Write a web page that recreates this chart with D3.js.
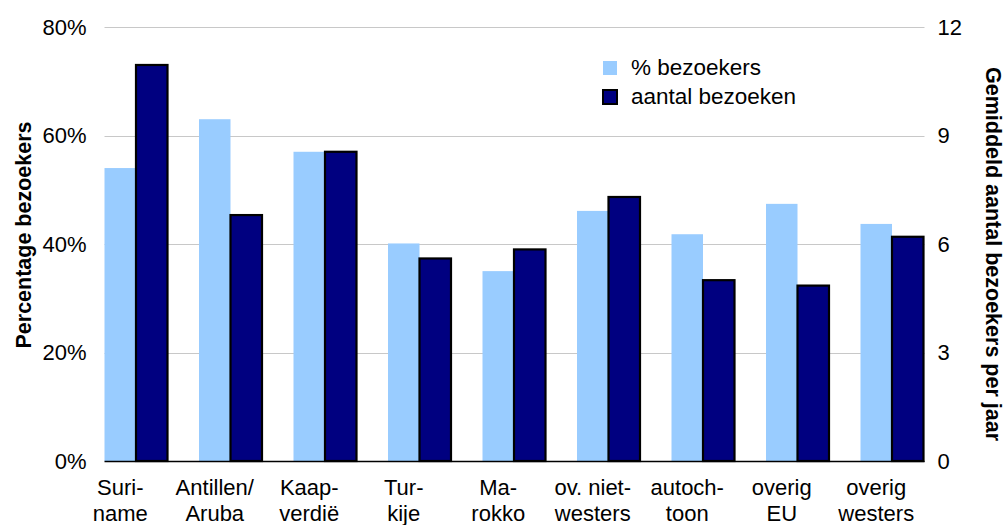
<!DOCTYPE html>
<html>
<head>
<meta charset="utf-8">
<script src="https://cdn.jsdelivr.net/npm/d3@7"></script>
<style>
  html, body { margin: 0; padding: 0; background: #fff; }
  svg { display: block; font-family: "Liberation Sans", Arial, sans-serif; }
</style>
</head>
<body>
<svg id="chart" width="1006" height="525"></svg>
<script>
const categories = [
  ["Suri-", "name"], ["Antillen/", "Aruba"], ["Kaap-", "verdië"], ["Tur-", "kije"],
  ["Ma-", "rokko"], ["ov. niet-", "westers"], ["autoch-", "toon"], ["overig", "EU"], ["overig", "westers"]
];
const pctVisitors = [54.0, 63.0, 57.0, 40.1, 35.0, 46.1, 41.8, 47.4, 43.7];
const numVisits = [10.95, 6.8, 8.55, 5.6, 5.85, 7.3, 5.0, 4.85, 6.2];
const leftTicks = [0, 20, 40, 60, 80];
const rightTicks = [0, 3, 6, 9, 12];
const seriesNames = ["% bezoekers", "aantal bezoeken"];

const svg = d3.select("#chart");
const fs = 22;
const keys = categories.map((c, i) => i);

const x = d3.scaleBand().domain(keys).range([104.5, 104.5 + 9 * 94.5]).padding(0);
const xs = d3.scaleBand().domain([0, 1]).range([0, x.bandwidth() * 2 / 3]).padding(0);
const yL = d3.scaleLinear().domain([0, 80]).range([461, 27]);
const yR = d3.scaleLinear().domain([0, 12]).range([461, 27]);
const plotLeft = 104.5, plotRight = x(8) + xs(1) + xs.bandwidth() + 1;

// gridlines
svg.append("g").selectAll("line").data(leftTicks.filter(d => d > 0)).join("line")
  .attr("x1", plotLeft).attr("x2", plotRight)
  .attr("y1", d => Math.round(yL(d)) + 0.5).attr("y2", d => Math.round(yL(d)) + 0.5)
  .attr("stroke", "#c8c8c8").attr("stroke-width", 1);

// bars
svg.append("g").selectAll("rect").data(pctVisitors).join("rect")
  .attr("x", (d, i) => x(i) + xs(0)).attr("width", xs.bandwidth())
  .attr("y", d => yL(d)).attr("height", d => yL(0) - yL(d))
  .attr("fill", "#99ccff");
svg.append("g").selectAll("rect").data(numVisits).join("rect")
  .attr("x", (d, i) => x(i) + xs(1)).attr("width", xs.bandwidth())
  .attr("y", d => yR(d)).attr("height", d => yR(0) - yR(d))
  .attr("fill", "#000080").attr("stroke", "#000").attr("stroke-width", 2.2);

// baseline
svg.append("line").attr("x1", plotLeft).attr("x2", plotRight)
  .attr("y1", yL(0) + 0.5).attr("y2", yL(0) + 0.5).attr("stroke", "#000").attr("stroke-width", 1.3);

// left axis
const axL = svg.append("g").attr("transform", "translate(104.5,0)")
  .call(d3.axisLeft(yL).tickValues(leftTicks).tickFormat(d => d + "%").tickSize(0).tickPadding(18));
axL.select(".domain").remove();
axL.selectAll("text").attr("font-size", fs).attr("fill", "#000").attr("font-family", "Liberation Sans, Arial, sans-serif");

// right axis
const axR = svg.append("g").attr("transform", "translate(" + plotRight + ",0)")
  .call(d3.axisRight(yR).tickValues(rightTicks).tickSize(0).tickPadding(13));
axR.select(".domain").remove();
axR.selectAll("text").attr("font-size", fs).attr("fill", "#000").attr("font-family", "Liberation Sans, Arial, sans-serif");

// category labels
const lab = svg.append("g").selectAll("text").data(categories).join("text")
  .attr("text-anchor", "middle").attr("font-size", fs).attr("fill", "#000")
  .attr("x", (d, i) => x(i) + xs(0) + xs.bandwidth() / 2);
lab.append("tspan").attr("x", (d, i) => x(i) + xs(0) + xs.bandwidth() / 2).attr("y", 495).text(d => d[0]);
lab.append("tspan").attr("x", (d, i) => x(i) + xs(0) + xs.bandwidth() / 2).attr("y", 521).text(d => d[1]);

// axis titles
svg.append("text").attr("transform", "translate(31,235) rotate(-90)")
  .attr("text-anchor", "middle").attr("font-size", 21.5).attr("font-weight", "bold").attr("fill", "#000")
  .text("Percentage bezoekers");
svg.append("text").attr("transform", "translate(986,254) rotate(90)")
  .attr("text-anchor", "middle").attr("font-size", 21.5).attr("font-weight", "bold").attr("fill", "#000")
  .text("Gemiddeld aantal bezoekers per jaar");

// legend
const legColors = ["#99ccff", "#000080"];
const leg = svg.append("g").selectAll("g").data(seriesNames).join("g")
  .attr("transform", (d, i) => "translate(603," + (61 + i * 29) + ")");
leg.append("rect").attr("width", 14).attr("height", 14)
  .attr("fill", (d, i) => legColors[i])
  .attr("stroke", (d, i) => i === 1 ? "#000" : "none").attr("stroke-width", 2);
leg.append("text").attr("x", 28).attr("y", 14).attr("font-size", 22.5).attr("fill", "#000").text(d => d);
</script>
</body>
</html>
